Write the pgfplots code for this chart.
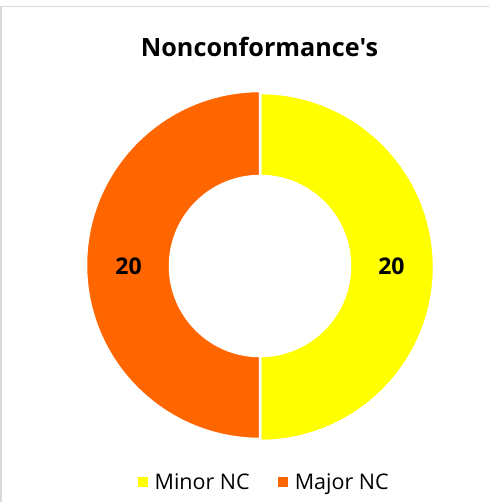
\documentclass[border=0pt]{standalone}
\usepackage{fontspec}
\setmainfont{Open Sans}[Ligatures=TeXOff]
\usepackage{pgfplots}
\pgfplotsset{compat=1.18}
\usepackage{pgfplotstable}
\definecolor{minorc}{HTML}{FFFF00}
\definecolor{majorc}{HTML}{FF6600}
\definecolor{framec}{HTML}{D9D9D9}
\pgfplotstableread{
label value
Minor 20
Major 20
}\nctable
\pgfplotstablegetelem{0}{value}\of\nctable \let\va\pgfplotsretval
\pgfplotstablegetelem{1}{value}\of\nctable \let\vb\pgfplotsretval
\pgfmathsetmacro\tot{\va+\vb}
\pgfmathsetmacro\aA{90-360*\va/\tot}
\pgfmathsetmacro\aB{\aA-360*\vb/\tot}
\pgfmathsetmacro\mA{(90+\aA)/2}
\pgfmathsetmacro\mB{(\aA+\aB)/2}
\def\rin{0.52}
\begin{document}
\begin{tikzpicture}
\useasboundingbox (0pt,0pt) rectangle (489pt,502pt);
\fill[white] (0pt,0pt) rectangle (489pt,502pt);
\draw[framec, line width=1.5pt] (0.75pt,0pt) -- (0.75pt,495.5pt) -- (489pt,495.5pt);
\node[font=\bfseries\fontsize{25.2}{29}\selectfont] at (259.5pt,455pt) {Nonconformance's};
\begin{axis}[at={(260pt,236pt)}, anchor=center, scale only axis,
  width=346pt, height=346pt, xmin=-1, xmax=1, ymin=-1, ymax=1,
  hide axis, clip=false,
  legend columns=2,
  legend style={draw=none, fill=none, at={(0.512,-0.124)}, anchor=center,
    font=\fontsize{21.5}{25}\selectfont,
    /tikz/every odd column/.append style={column sep=5pt},
    /tikz/every even column/.append style={column sep=26pt}},
  legend image code/.code={\path[draw=none,#1] (0pt,-5pt) rectangle (10pt,5pt);},
]
\addlegendimage{fill=minorc, draw=none}
\addlegendentry{Minor NC}
\addlegendimage{fill=majorc, draw=none}
\addlegendentry{Major NC}
\filldraw[fill=minorc, draw=white, line width=2.5pt]
  (axis cs:{cos(90)},{sin(90)}) arc[start angle=90, end angle=\aA, radius=174pt]
  -- (axis cs:{\rin*cos(\aA)},{\rin*sin(\aA)}) arc[start angle=\aA, end angle=90, radius=90pt] -- cycle;
\filldraw[fill=majorc, draw=white, line width=2.5pt]
  (axis cs:{cos(\aA)},{sin(\aA)}) arc[start angle=\aA, end angle=\aB, radius=174pt]
  -- (axis cs:{\rin*cos(\aB)},{\rin*sin(\aB)}) arc[start angle=\aB, end angle=\aA, radius=90pt] -- cycle;
\node[font=\bfseries\fontsize{23}{27}\selectfont] at (axis cs:{0.76*cos(\mA)},{0.76*sin(\mA)}) {\va};
\node[font=\bfseries\fontsize{23}{27}\selectfont] at (axis cs:{0.76*cos(\mB)},{0.76*sin(\mB)}) {\vb};
\end{axis}
\end{tikzpicture}
\end{document}
